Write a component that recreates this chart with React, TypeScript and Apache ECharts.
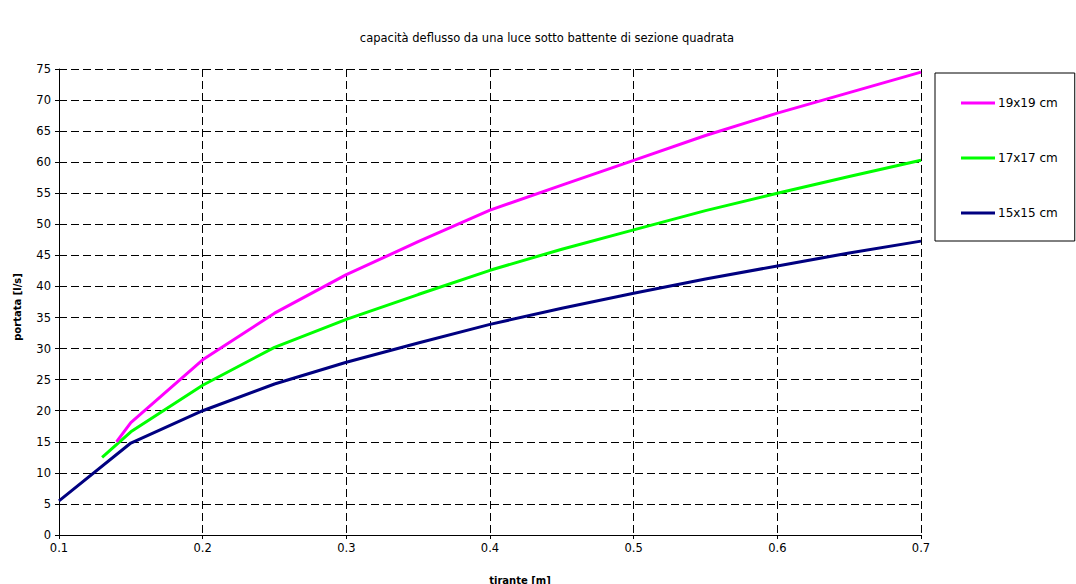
import React, { useEffect, useRef } from "react";
import * as echarts from "echarts";

const titleText = "capacità deflusso da una luce sotto battente di sezione quadrata";
const xName = "tirante [m]";
const yName = "portata [l/s]";

const seriesNames = ["19x19 cm", "17x17 cm", "15x15 cm"];
const seriesColors = ["#FF00FF", "#00FF00", "#000080"];

const x19 = [0.14, 0.15, 0.2, 0.25, 0.3, 0.35, 0.4, 0.45, 0.5, 0.55, 0.6, 0.65, 0.7];
const q19 = [15.0, 18.1, 28.2, 35.7, 41.9, 47.2, 52.3, 56.3, 60.3, 64.3, 67.9, 71.2, 74.5];

const x17 = [0.13, 0.15, 0.2, 0.25, 0.3, 0.35, 0.4, 0.45, 0.5, 0.55, 0.6, 0.65, 0.7];
const q17 = [12.5, 16.6, 24.1, 30.2, 34.7, 38.7, 42.6, 46.0, 49.1, 52.2, 55.0, 57.7, 60.3];

const x15 = [0.1, 0.15, 0.2, 0.25, 0.3, 0.35, 0.4, 0.45, 0.5, 0.55, 0.6, 0.65, 0.7];
const q15 = [5.5, 14.8, 20.0, 24.3, 27.8, 30.9, 33.9, 36.5, 38.9, 41.2, 43.3, 45.4, 47.3];

const xs = [x19, x17, x15];
const qs = [q19, q17, q15];

const FONT = "DejaVu Sans";

export default function App() {
  const ref = useRef<HTMLDivElement>(null);
  useEffect(() => {
    if (!ref.current) return;
    const chart = echarts.init(ref.current, undefined, { renderer: "svg" });
    const gridLine = {
      show: true,
      lineStyle: { color: "#000", type: [8, 4] as any, width: 1 },
    };
    chart.setOption({
      animation: false,
      backgroundColor: "#fff",
      textStyle: { fontFamily: FONT },
      grid: { left: 59, right: 155, top: 69, bottom: 49, containLabel: false },
      xAxis: [
        {
          type: "value",
          min: 0.1,
          max: 0.7,
          interval: 0.1,
          axisLine: { show: true, onZero: false, lineStyle: { color: "#000", width: 1 } },
          axisTick: { show: true, length: 4, lineStyle: { color: "#000" } },
          axisLabel: { color: "#000", fontSize: 11.5, fontFamily: FONT, margin: 7, formatter: (v: number) => String(Math.round(v * 10) / 10) },
          splitLine: gridLine,
        },
        {
          type: "value",
          position: "top",
          min: 0.1,
          max: 0.7,
          axisLine: { show: true, lineStyle: { color: "#000", width: 1 } },
          axisTick: { show: false },
          axisLabel: { show: false },
          splitLine: { show: false },
        },
      ],
      yAxis: {
        type: "value",
        min: 0,
        max: 75,
        interval: 5,
        axisLine: { show: true, lineStyle: { color: "#000", width: 1 } },
        axisTick: { show: true, length: 4, lineStyle: { color: "#000" } },
        axisLabel: { color: "#000", fontSize: 11.5, fontFamily: FONT, margin: 8 },
        splitLine: gridLine,
      },
      legend: {
        show: true,
        orient: "vertical",
        left: 935,
        top: 73,
        data: seriesNames,
        icon: "rect",
        itemWidth: 34,
        itemHeight: 3,
        itemGap: 43,
        padding: [24, 17, 22, 26],
        borderColor: "#000",
        borderWidth: 1,
        backgroundColor: "#fff",
        textStyle: { color: "#000", fontSize: 12, fontFamily: FONT, padding: [0, 0, 0, -2] },
      },
      graphic: [
        {
          type: "text",
          x: 547,
          y: 38,
          style: { text: titleText, fill: "#000", font: `11.5px "${FONT}"`, textAlign: "center", textVerticalAlign: "middle" },
        },
        {
          type: "text",
          x: 17,
          y: 307,
          rotation: Math.PI / 2,
          style: { text: yName, fill: "#000", font: `bold 10px "${FONT}"`, textAlign: "center", textVerticalAlign: "middle" },
        },
        {
          type: "text",
          x: 520,
          y: 580,
          style: { text: xName, fill: "#000", font: `bold 10px "${FONT}"`, textAlign: "center", textVerticalAlign: "middle" },
        },
      ],
      series: seriesNames.map((name, i) => ({
        name,
        type: "line",
        xAxisIndex: 0,
        data: xs[i].map((x, j) => [x, qs[i][j]]),
        showSymbol: false,
        symbol: "none",
        color: seriesColors[i],
        lineStyle: { color: seriesColors[i], width: 3 },
        z: 3 - i + 2,
      })),
    });
    return () => chart.dispose();
  }, []);
  return (
    <div
      ref={ref}
      style={{ position: "fixed", left: 0, top: 0, width: 1076, height: 584 }}
    />
  );
}
